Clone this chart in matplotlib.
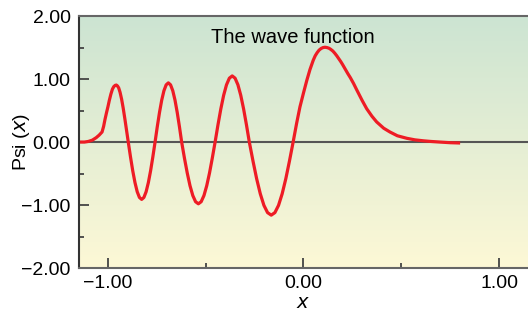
import numpy as np
import matplotlib
matplotlib.use("Agg")
import matplotlib.pyplot as plt
from matplotlib.colors import LinearSegmentedColormap
from matplotlib.ticker import MultipleLocator, FuncFormatter

plt.rcParams['font.family'] = ['Liberation Sans', 'DejaVu Sans']

# wave function
x_vals = [-1.148, -1.12, -1.10, -1.08, -1.06, -1.045, -1.03, -1.022, -1.015, -1.007,
          -1.00, -0.993, -0.985, -0.977, -0.97, -0.963, -0.957, -0.951, -0.945,
          -0.938, -0.93, -0.922, -0.913, -0.905, -0.896,
          -0.8846, -0.8732, -0.8617, -0.8503, -0.8389, -0.8275, -0.8161, -0.8047,
          -0.7933, -0.7818, -0.7704, -0.759,
          -0.7477, -0.7363, -0.725, -0.7137, -0.7023, -0.691, -0.6797, -0.6683,
          -0.657, -0.6457, -0.6343, -0.623,
          -0.6088, -0.5945, -0.5803, -0.566, -0.5518, -0.5375, -0.5233, -0.509,
          -0.4948, -0.4805, -0.4663, -0.452,
          -0.4374, -0.4228, -0.4083, -0.3937, -0.3791, -0.3645, -0.3499, -0.3353,
          -0.3208, -0.3062, -0.2916, -0.277,
          -0.2583, -0.2397, -0.221, -0.2023, -0.1837, -0.165, -0.1463, -0.1277,
          -0.109, -0.0903, -0.0717, -0.053,
          -0.035, -0.018, 0.0, 0.017, 0.033, 0.050, 0.060, 0.070, 0.080, 0.090,
          0.100, 0.110, 0.120, 0.130, 0.140, 0.150, 0.160, 0.170, 0.180, 0.190,
          0.200, 0.213, 0.226, 0.240, 0.256, 0.272, 0.286, 0.300, 0.323, 0.350,
          0.374, 0.410, 0.442, 0.480, 0.528, 0.570, 0.613, 0.650, 0.698, 0.750, 0.801]
psi_vals = [0.0, 0.0, 0.01, 0.03, 0.07, 0.11, 0.16, 0.25, 0.36, 0.47,
            0.56, 0.66, 0.76, 0.84, 0.88, 0.90, 0.905, 0.89, 0.86,
            0.79, 0.68, 0.54, 0.36, 0.19, 0.0,
            -0.236, -0.455, -0.643, -0.788, -0.879, -0.91, -0.879, -0.788,
            -0.643, -0.455, -0.236, 0.0,
            0.243, 0.47, 0.665, 0.814, 0.908, 0.94, 0.908, 0.814,
            0.665, 0.47, 0.243, 0.0,
            -0.254, -0.49, -0.693, -0.849, -0.947, -0.98, -0.947, -0.849,
            -0.693, -0.49, -0.254, 0.0,
            0.272, 0.525, 0.742, 0.909, 1.014, 1.05, 1.014, 0.909,
            0.742, 0.525, 0.272, 0.0,
            -0.30, -0.58, -0.82, -1.005, -1.12, -1.16, -1.12, -1.005,
            -0.82, -0.58, -0.30, 0.0,
            0.30, 0.56, 0.78, 0.98, 1.15, 1.30, 1.37, 1.42, 1.46, 1.485,
            1.50, 1.505, 1.50, 1.49, 1.47, 1.445, 1.41, 1.37, 1.325, 1.28,
            1.23, 1.16, 1.09, 1.02, 0.93, 0.83, 0.745, 0.66, 0.53, 0.41,
            0.32, 0.22, 0.16, 0.10, 0.06, 0.035, 0.02, 0.01, 0.0, -0.01, -0.015]

x_min, x_max = -1.148, 1.148
y_min, y_max = -2.0, 2.0
title_text = "The wave function"


def fmt(v, pos):
    return ("%.2f" % v).replace("-", "\u2212")


fig = plt.figure(figsize=(5.28, 3.18), dpi=100)
ax = fig.add_axes([0.1496, 0.157, 0.8504, 0.7925])

# green to pale yellow background
bg = LinearSegmentedColormap.from_list("bg", ["#fdf8d6", "#cce4d2"])
grad = np.linspace(0, 1, 256).reshape(-1, 1)
ax.imshow(grad, cmap=bg, origin="lower", aspect="auto",
          extent=[x_min, x_max, y_min, y_max], zorder=0)

ax.axhline(0, color="#555555", lw=1.5, zorder=1)
ax.plot(x_vals, psi_vals, color="#ee1c25", lw=2.3, zorder=2,
        solid_joinstyle="round", solid_capstyle="butt")

ax.set_xlim(x_min, x_max)
ax.set_ylim(y_min, y_max)

ax.xaxis.set_major_locator(MultipleLocator(1.0))
ax.xaxis.set_minor_locator(MultipleLocator(0.5))
ax.yaxis.set_major_locator(MultipleLocator(1.0))
ax.yaxis.set_minor_locator(MultipleLocator(0.5))
ax.xaxis.set_major_formatter(FuncFormatter(fmt))
ax.yaxis.set_major_formatter(FuncFormatter(fmt))

ax.tick_params(which="both", direction="in", colors="#444444", width=1.3,
               labelsize=14, labelcolor="black")
ax.tick_params(which="major", length=7.5, pad=6)
ax.tick_params(which="minor", length=3.5)
ax.tick_params(axis="x", which="major", pad=5)

for side in ["left", "bottom", "top"]:
    ax.spines[side].set_linewidth(1.5)
ax.spines["left"].set_color("#333333")
ax.spines["bottom"].set_color("#666666")
ax.spines["top"].set_color("#666666")
ax.spines["right"].set_visible(False)

ax.set_xlabel("$x$", fontsize=14, labelpad=2)
ax.set_ylabel("Psi ($x$)", fontsize=14)
ax.yaxis.set_label_coords(-0.104, 0.5)

ax.text(-0.055, 1.58, title_text, ha="center", va="baseline", fontsize=14.5, zorder=3)

fig.savefig("out.png", dpi=100)
